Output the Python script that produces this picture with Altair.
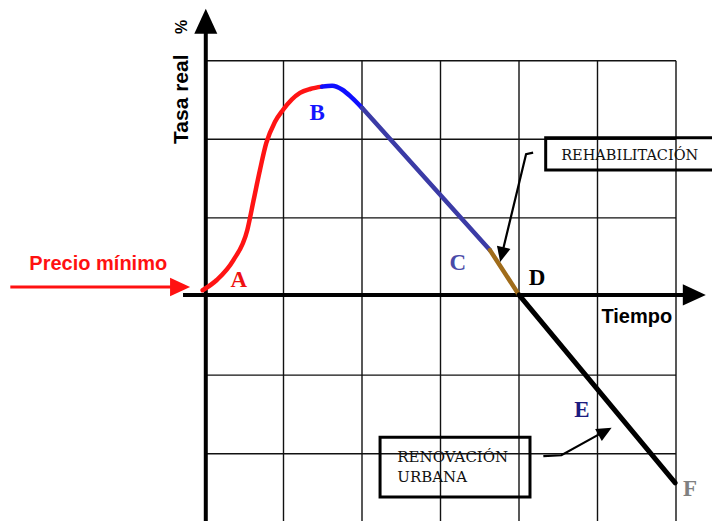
import altair as alt
import pandas as pd

W, H = 704, 513
X_DOM = [-2.5096, 6.4586]
Y_DOM = [-2.8562, 3.6705]

# ---- curve segments (grid units) ----
red_x = [-0.03, 0.15, 0.36, 0.54, 0.62, 0.70, 0.78, 0.89, 0.99, 1.21, 1.34, 1.49]
red_y = [0.08, 0.21, 0.46, 0.85, 1.23, 1.61, 1.95, 2.22, 2.37, 2.59, 2.64, 2.67]
blue_x = [1.49, 1.62, 1.75, 1.87, 2.00]
blue_y = [2.67, 2.68, 2.63, 2.53, 2.40]
slate_x = [2.00, 3.01, 3.63]
slate_y = [2.40, 1.28, 0.59]
brown_x = [3.63, 4.00]
brown_y = [0.59, 0.02]
black_x = [4.00, 5.99]
black_y = [0.02, -2.37]

# ---- grid ----
grid_v = [1, 2, 3, 4, 5, 6]
grid_h = [3, 2, 1, -1, -2]
grid_left, grid_right = 0.0, 6.0
grid_top, grid_bottom = 3.0, -2.9

# ---- axes (line start/end) ----
axis_x1 = [0.01, -0.28]
axis_y1 = [3.38, 0.02]
axis_x2 = [0.01, 6.12]
axis_y2 = [-2.9, 0.02]

# ---- labels ----
letters = ["A", "B", "C", "D", "E", "F"]
letter_x = [0.43, 1.43, 3.22, 4.23, 4.80, 6.18]
letter_y = [0.21, 2.33, 0.43, 0.24, -1.44, -2.45]
letter_col = ["#ee1111", "#1515ff", "#4a4aa8", "#000000", "#1c1c80", "#808080"]

# ---- annotation boxes ----
box_x1 = [4.34, 2.23]
box_x2 = [6.70, 4.14]
box_y1 = [2.02, -1.79]
box_y2 = [1.61, -2.55]

# ---- annotation arrows (polylines) ----
arr_id = ["reh", "reh", "reh", "ren", "ren", "ren", "pre", "pre"]
arr_x = [4.18, 4.09, 3.79, 4.31, 4.54, 5.10, -2.48, -0.40]
arr_y = [1.83, 1.81, 0.57, -2.03, -2.02, -1.71, 0.12, 0.12]
arr_col = ["#000000", "#000000", "#000000", "#000000", "#000000", "#000000", "#ff1111", "#ff1111"]
arr_w = [2.2, 2.2, 2.2, 2.2, 2.2, 2.2, 3, 3]

# ---- arrow heads: tip position, direction (deg, clockwise from right), length ----
head_x = [0.01, 6.38, -0.19, 3.76, 5.18]
head_y = [3.66, 0.02, 0.12, 0.44, -1.67]
head_ang = [270, 0, 0, 103.5, 331.2]
head_len = [25, 23, 20, 15, 15]
head_col = ["#000000", "#000000", "#ff1111", "#000000", "#000000"]

sx = alt.Scale(domain=X_DOM, nice=False, zero=False)
sy = alt.Scale(domain=Y_DOM, nice=False, zero=False)


def X(f="x"):
    return alt.X(f"{f}:Q", scale=sx, axis=None)


def Y(f="y"):
    return alt.Y(f"{f}:Q", scale=sy, axis=None)


layers = []

# grid
gv = pd.DataFrame({"x": grid_v, "x2": grid_v, "y": [grid_top] * len(grid_v), "y2": [grid_bottom] * len(grid_v)})
gh = pd.DataFrame({"x": [grid_left] * len(grid_h), "x2": [grid_right] * len(grid_h), "y": grid_h, "y2": grid_h})
grid = pd.concat([gv, gh])
layers.append(alt.Chart(grid).mark_rule(color="#111111", strokeWidth=1.4).encode(
    x=X("x"), x2="x2:Q", y=Y("y"), y2="y2:Q"))

# boxes
boxes = pd.DataFrame({"x": box_x1, "x2": box_x2, "y": box_y1, "y2": box_y2})
layers.append(alt.Chart(boxes).mark_rect(fillOpacity=0, stroke="#000000", strokeWidth=3).encode(
    x=X("x"), x2="x2:Q", y=Y("y"), y2="y2:Q"))

# axes
axes = pd.DataFrame({"x": axis_x1, "y": axis_y1, "x2": axis_x2, "y2": axis_y2})
layers.append(alt.Chart(axes).mark_rule(color="#000000", strokeWidth=4).encode(
    x=X("x"), x2="x2:Q", y=Y("y"), y2="y2:Q"))

# annotation arrows
arr = pd.DataFrame({"id": arr_id, "x": arr_x, "y": arr_y, "c": arr_col, "w": arr_w,
                    "i": list(range(len(arr_x)))})
layers.append(alt.Chart(arr).mark_line(strokeJoin="miter").encode(
    x=X("x"), y=Y("y"), detail="id:N", order="i:Q",
    color=alt.Color("c:N", scale=None), strokeWidth=alt.StrokeWidth("w:Q", scale=None)))

# curve segments
for xs_, ys_, col, sw in [
    (red_x, red_y, "#ff1414", 4.5),
    (blue_x, blue_y, "#0f0fff", 4.5),
    (slate_x, slate_y, "#3b3ba6", 4.5),
    (brown_x, brown_y, "#a06c1a", 4.5),
    (black_x, black_y, "#000000", 5),
]:
    d = pd.DataFrame({"x": xs_, "y": ys_, "i": list(range(len(xs_)))})
    layers.append(alt.Chart(d).mark_line(color=col, strokeWidth=sw, strokeCap="round",
                                         interpolate="monotone").encode(
        x=X("x"), y=Y("y"), order="i:Q"))

# arrow heads
heads = pd.DataFrame({"x": head_x, "y": head_y, "ang": head_ang,
                      "size": [4 * l * l for l in head_len], "c": head_col})
layers.append(alt.Chart(heads).mark_point(shape="M0,0L-1,-0.46L-1,0.46Z", filled=True, opacity=1,
                                          strokeWidth=0).encode(
    x=X("x"), y=Y("y"), angle=alt.Angle("ang:Q", scale=None),
    size=alt.Size("size:Q", scale=None), color=alt.Color("c:N", scale=None)))

# letters
lt = pd.DataFrame({"t": letters, "x": letter_x, "y": letter_y, "c": letter_col})
layers.append(alt.Chart(lt).mark_text(font="Liberation Serif", fontWeight="bold", fontSize=23,
                                      baseline="middle", align="center").encode(
    x=X("x"), y=Y("y"), text="t:N", color=alt.Color("c:N", scale=None)))

# axis titles
sans = pd.DataFrame({"t": ["Tiempo"], "x": [5.50], "y": [-0.26]})
layers.append(alt.Chart(sans).mark_text(font="Liberation Sans", fontWeight="bold", fontSize=20,
                                        color="#000000", baseline="middle", align="center").encode(
    x=X("x"), y=Y("y"), text="t:N"))
ytitle = pd.DataFrame({"t": ["Tasa real", "%"], "x": [-0.29, -0.29], "y": [2.51, 3.43], "s": [21, 16]})
layers.append(alt.Chart(ytitle).mark_text(font="Liberation Sans", fontWeight="bold", angle=270,
                                          color="#000000", baseline="middle", align="center").encode(
    x=X("x"), y=Y("y"), text="t:N", size=alt.Size("s:Q", scale=None)))

precio = pd.DataFrame({"t": ["Precio mínimo"], "x": [-1.36], "y": [0.41]})
layers.append(alt.Chart(precio).mark_text(font="Liberation Sans", fontWeight="bold", fontSize=20,
                                          color="#ff1111", baseline="middle", align="center").encode(
    x=X("x"), y=Y("y"), text="t:N"))

# box texts
reh = pd.DataFrame({"t": ["REHABILITACIÓN"], "x": [5.41], "y": [1.79]})
layers.append(alt.Chart(reh).mark_text(font="DejaVu Serif", fontSize=14.5, color="#111111",
                                       baseline="middle", align="center").encode(
    x=X("x"), y=Y("y"), text="t:N"))
ren = pd.DataFrame({"t": ["RENOVACIÓN", "URBANA"], "x": [2.45, 2.45], "y": [-2.04, -2.30]})
layers.append(alt.Chart(ren).mark_text(font="DejaVu Serif", fontSize=15, color="#111111",
                                       baseline="middle", align="left").encode(
    x=X("x"), y=Y("y"), text="t:N"))

chart = alt.layer(*layers).properties(
    width=W, height=H, autosize=alt.AutoSizeParams(type="none"), padding=0,
    background="#ffffff",
).configure_view(stroke=None)

chart.save("out.html", embed_options={"renderer": "svg", "actions": False})
